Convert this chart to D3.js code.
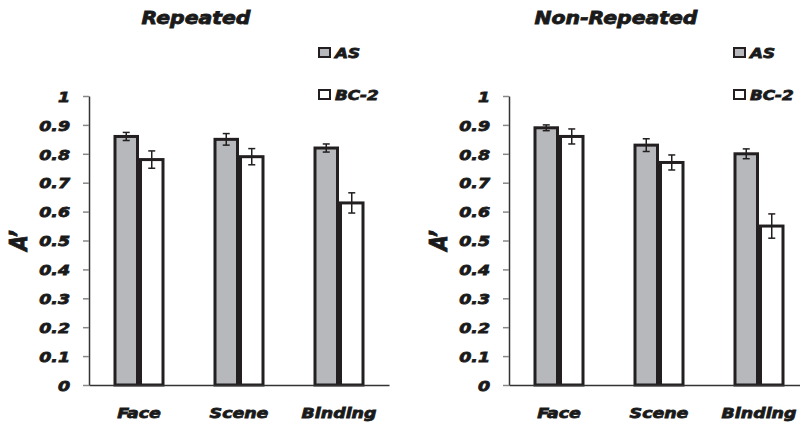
<!DOCTYPE html>
<html>
<head>
<meta charset="utf-8">
<script src="https://cdn.jsdelivr.net/npm/d3@7"></script>
<style>
  body { margin: 0; background: #fff; }
  text { font-family: "DejaVu Sans", sans-serif; font-weight: bold; font-style: italic; fill: #1a1a1a; stroke: #1a1a1a; stroke-width: 0.8px; }
</style>
</head>
<body>
<div id="chart"></div>
<script>
// data
var categories = ["Face", "Scene", "Binding"];
var seriesNames = ["AS", "BC-2"];
var yTicks = [0, 0.1, 0.2, 0.3, 0.4, 0.5, 0.6, 0.7, 0.8, 0.9, 1];

var repeatedAS = [0.86, 0.85, 0.82];
var repeatedASErr = [0.014, 0.02, 0.014];
var repeatedBC = [0.78, 0.79, 0.63];
var repeatedBCErr = [0.03, 0.028, 0.035];

var nonRepeatedAS = [0.89, 0.83, 0.80];
var nonRepeatedASErr = [0.01, 0.022, 0.017];
var nonRepeatedBC = [0.86, 0.77, 0.55];
var nonRepeatedBCErr = [0.026, 0.026, 0.042];

var svgWidth = 800;
var svgHeight = 425;

var svg = d3.select("#chart")
  .append("svg")
  .attr("width", svgWidth)
  .attr("height", svgHeight);

var yScale = d3.scaleLinear()
  .domain([0, 1])
  .range([385, 96]);

var fills = { "AS": "#b6b8bb", "BC-2": "#ffffff" };
var stretch = 1.2;

// draws one panel; x0 is where the y axis sits
function drawPanel(x0, title, titleX, legendX, asVals, asErr, bcVals, bcErr) {

  var g = svg.append("g");

  var xScale = d3.scaleBand()
    .domain(categories)
    .range([x0, x0 + 300])
    .padding(0);

  var xSub = d3.scaleBand()
    .domain(seriesNames)
    .range([0, 51]);

  var rows = categories.map(function(c, i) {
    return [
      { cat: c, series: "AS", value: asVals[i], err: asErr[i] },
      { cat: c, series: "BC-2", value: bcVals[i], err: bcErr[i] }
    ];
  }).flat();

  // y axis
  var leftAxis = d3.axisLeft(yScale)
    .tickValues(yTicks)
    .tickSize(6)
    .tickSizeOuter(0)
    .tickFormat(d3.format("~g"));

  var yAxis = g.append("g")
    .attr("transform", `translate(${x0}, 0)`)
    .call(leftAxis);

  yAxis.select(".domain").attr("stroke", "#333").attr("stroke-width", 1.5);
  yAxis.selectAll(".tick line").attr("stroke", "#888").attr("stroke-width", 1.5);
  yAxis.selectAll(".tick text")
    .attr("x", 0)
    .attr("dy", "0.36em")
    .attr("font-size", 14.5)
    .attr("fill", "#1a1a1a")
    .attr("font-family", null)
    .attr("transform", `translate(-19, 0) scale(${stretch}, 1)`);

  // bars
  g.selectAll("rect.bar")
    .data(rows)
    .enter()
    .append("rect")
    .attr("class", "bar")
    .attr("x", d => xScale(d.cat) + xScale.bandwidth() / 2 - 25.5 + xSub(d.series) + 1.5)
    .attr("y", d => yScale(d.value))
    .attr("width", xSub.bandwidth() - 3)
    .attr("height", d => yScale(0) - yScale(d.value))
    .attr("fill", d => fills[d.series])
    .attr("stroke", "#231f20")
    .attr("stroke-width", 3);

  // error bars
  var errG = g.selectAll("g.err")
    .data(rows)
    .enter()
    .append("g")
    .attr("class", "err")
    .attr("transform", d => `translate(${xScale(d.cat) + xScale.bandwidth() / 2 - 25.5 + xSub(d.series) + xSub.bandwidth() / 2}, 0)`);

  errG.append("line")
    .attr("y1", d => yScale(d.value + d.err))
    .attr("y2", d => yScale(d.value - d.err))
    .attr("stroke", "#231f20")
    .attr("stroke-width", 1.5);

  errG.append("line")
    .attr("x1", -3.5).attr("x2", 3.5)
    .attr("y1", d => yScale(d.value + d.err))
    .attr("y2", d => yScale(d.value + d.err))
    .attr("stroke", "#231f20")
    .attr("stroke-width", 1.5);

  errG.append("line")
    .attr("x1", -3.5).attr("x2", 3.5)
    .attr("y1", d => yScale(d.value - d.err))
    .attr("y2", d => yScale(d.value - d.err))
    .attr("stroke", "#231f20")
    .attr("stroke-width", 1.5);

  // x axis
  var bottomAxis = d3.axisBottom(xScale)
    .tickSize(0)
    .tickSizeOuter(0);

  var xAxis = g.append("g")
    .attr("transform", `translate(0, ${yScale(0)})`)
    .call(bottomAxis);

  xAxis.select(".domain").attr("stroke", "#333").attr("stroke-width", 1.5);
  xAxis.selectAll(".tick text")
    .attr("y", 0)
    .attr("dy", null)
    .attr("font-size", 14.5)
    .attr("fill", "#1a1a1a")
    .attr("font-family", null)
    .attr("transform", `translate(0, 33) scale(${stretch}, 1)`);

  // y label
  g.append("text")
    .attr("transform", `translate(${x0 - 62}, ${(yScale(0) + yScale(1)) / 2}) rotate(-90) scale(1, ${stretch})`)
    .attr("text-anchor", "middle")
    .attr("font-size", 20)
    .text("A\u2019");

  // title
  g.append("text")
    .attr("transform", `translate(${titleX}, 24) scale(${stretch}, 1)`)
    .attr("text-anchor", "middle")
    .attr("font-size", 17)
    .text(title);

  // legend
  var legend = g.selectAll("g.legend")
    .data(seriesNames)
    .enter()
    .append("g")
    .attr("class", "legend")
    .attr("transform", (d, i) => `translate(${legendX}, ${47 + i * 42})`);

  legend.append("rect")
    .attr("x", 1)
    .attr("y", 1)
    .attr("width", 11)
    .attr("height", 9)
    .attr("fill", d => fills[d])
    .attr("stroke", "#231f20")
    .attr("stroke-width", 2);

  legend.append("text")
    .attr("transform", `translate(17, 10.5) scale(${stretch}, 1)`)
    .attr("font-size", 14)
    .text(d => d);
}

drawPanel(89, "Repeated", 196, 318, repeatedAS, repeatedASErr, repeatedBC, repeatedBCErr);
drawPanel(509, "Non-Repeated", 616, 733, nonRepeatedAS, nonRepeatedASErr, nonRepeatedBC, nonRepeatedBCErr);
</script>
</body>
</html>
